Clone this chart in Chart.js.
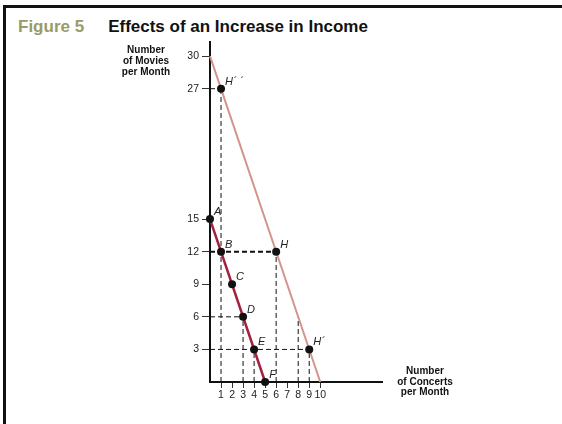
<!DOCTYPE html>
<html>
<head>
<meta charset="utf-8">
<script src="https://cdn.jsdelivr.net/npm/chart.js@4.4.1/dist/chart.umd.min.js"></script>
<style>
  body { margin: 0; background: #fff; }
  #wrap { position: relative; width: 562px; height: 424px; overflow: hidden; }
  #frame { position: absolute; left: 3px; top: 5px; width: 600px; height: 500px;
           border-top: 3px solid #111; border-left: 3px solid #111; }
  #title { position: absolute; left: 18px; top: 17px; font: bold 17px "Liberation Sans", Arial, sans-serif;
           white-space: nowrap; color: #111; }
  #title .fig { color: #9a9a68; margin-right: 24px; }
  canvas { position: absolute; left: 0; top: 0; }
</style>
</head>
<body>
<div id="wrap">
  <div id="frame"></div>
  <div id="title"><span class="fig">Figure 5</span>Effects of an Increase in Income</div>
  <canvas id="incomeChart" width="562" height="424"></canvas>
</div>
<script>
/* dades */
const xTicks = [1, 2, 3, 4, 5, 6, 7, 8, 9, 10]
const yTicks = [3, 6, 9, 12, 15, 27, 30]

// budget lines: [x0, y0, x1, y1]
const oldBudget = [0, 15, 5, 0]
const newBudget = [0, 30, 10, 0]

const pointNames = ['A', 'B', 'C', 'D', 'E', 'F', 'H', 'H´', 'H´ ´']
const pointX = [0, 1, 2, 3, 4, 5, 6, 9, 1]
const pointY = [15, 12, 9, 6, 3, 0, 12, 3, 27]

// dashed guides: [x0, y0, x1, y1]
const guides = [
    [1, 0, 1, 27], [0, 27, 1, 27],
    [6, 0, 6, 12],
    [0, 6, 3, 6], [3, 0, 3, 6],
    [0, 3, 9, 3], [4, 0, 4, 3], [9, 0, 9, 3],
    [8, 0, 8, 6]
]
const thickGuide = [0, 12, 6, 12]

const seg = s => [{ x: s[0], y: s[1] }, { x: s[2], y: s[3] }]

const font = '"Liberation Sans", Arial, sans-serif'

const datasets = [
    {
        data: pointX.map((x, i) => ({ x, y: pointY[i] })),
        showLine: false, pointRadius: 4, pointBackgroundColor: '#111', pointBorderWidth: 0
    },
    { data: seg(oldBudget), borderColor: '#a3213a', borderWidth: 2.5, pointRadius: 0 },
    { data: seg(newBudget), borderColor: '#d4948c', borderWidth: 2, pointRadius: 0 },
    { data: seg(thickGuide), borderColor: '#111', borderWidth: 2, borderDash: [5, 3], pointRadius: 0 }
]
guides.forEach(g => datasets.push({
    data: seg(g), borderColor: '#111', borderWidth: 1, borderDash: [5, 3], pointRadius: 0
}))
datasets.forEach(d => { d.clip = false })

const labelsPlugin = {
    id: 'labels',
    afterDatasetsDraw(chart) {
        const { ctx, scales: { x, y } } = chart
        ctx.save()
        ctx.fillStyle = '#222'
        ctx.font = 'italic 11px ' + font
        ctx.textBaseline = 'alphabetic'
        pointNames.forEach((n, i) => {
            ctx.fillText(n, x.getPixelForValue(pointX[i]) + 4, y.getPixelForValue(pointY[i]) - 4)
        })
        ctx.font = 'bold 10px ' + font
        ctx.fillStyle = '#111'
        ctx.textAlign = 'center'
        ;['Number', 'of Movies', 'per Month'].forEach((t, i) => ctx.fillText(t, 146, 53 + i * 11))
        ;['Number', 'of Concerts', 'per Month'].forEach((t, i) => ctx.fillText(t, 425, 374 + i * 10.5))
        ctx.restore()
    }
}

new Chart('incomeChart', {
    type: 'line',
    data: { datasets },
    plugins: [labelsPlugin],
    options: {
        responsive: false,
        animation: false,
        layout: { padding: { left: 176, right: 180, top: 42, bottom: 20 } },
        plugins: { legend: { display: false }, tooltip: { enabled: false } },
        scales: {
            x: {
                type: 'linear', min: 0, max: 15.6,
                border: { color: '#111', width: 2 },
                grid: { drawOnChartArea: false, tickLength: 6, color: '#333' },
                ticks: { color: '#222', font: { size: 10.5, family: font }, padding: 1, autoSkip: false, maxRotation: 0 },
                afterBuildTicks: s => { s.ticks = xTicks.map(v => ({ value: v })) },
                afterFit: s => { s.height = 22 }
            },
            y: {
                min: 0, max: 31.3,
                border: { color: '#111', width: 2 },
                grid: { drawOnChartArea: false, tickLength: 8, color: '#333' },
                ticks: { color: '#222', font: { size: 10.5, family: font }, padding: 3, autoSkip: false },
                afterBuildTicks: s => { s.ticks = yTicks.map(v => ({ value: v })) },
                afterFit: s => { s.width = 34 }
            }
        }
    }
})
</script>
</body>
</html>
